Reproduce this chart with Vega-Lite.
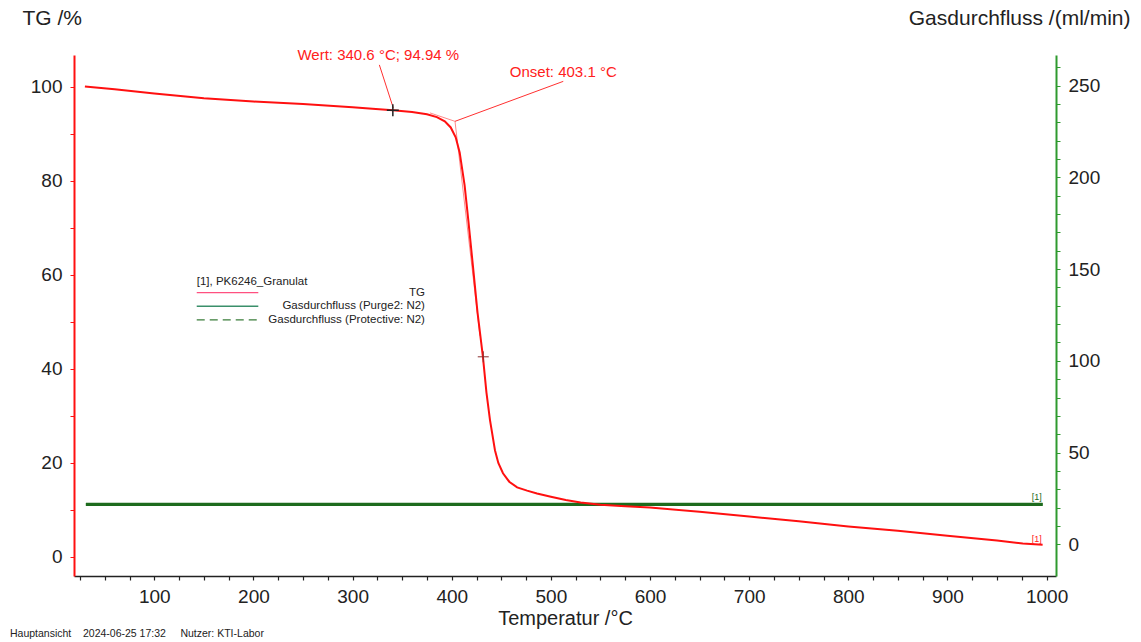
{
  "$schema": "https://vega.github.io/schema/vega-lite/v6.json",
  "width": 982,
  "height": 521,
  "autosize": {"type": "none"},
  "padding": {"left": 74, "top": 55, "right": 85, "bottom": 66},
  "background": "white",
  "config": {
    "view": {"stroke": null},
    "font": "Liberation Sans",
    "axis": {"grid": false, "labelOverlap": false, "labelFlush": false, "tickCount": 200, "format": "d", "labelFont": "Liberation Sans", "titleFont": "Liberation Sans", "titleFontWeight": "normal", "labelColor": "#222", "titleColor": "#222"}
  },
  "title": {
    "text": "Hauptansicht\u00a0\u00a0\u00a0\u00a02024-06-25 17:32\u00a0\u00a0\u00a0\u00a0\u00a0Nutzer: KTI-Labor",
    "orient": "bottom", "anchor": "start", "fontSize": 10.5, "fontWeight": "normal",
    "color": "#222", "dx": -12, "offset": 1, "font": "Liberation Sans"
  },
  "layer": [
    {
      "data": {"values": [
        {"T": 31, "flow": 21.8, "series": "Gasdurchfluss (Purge2: N2)"},
        {"T": 200, "flow": 21.8, "series": "Gasdurchfluss (Purge2: N2)"},
        {"T": 400, "flow": 21.8, "series": "Gasdurchfluss (Purge2: N2)"},
        {"T": 600, "flow": 21.8, "series": "Gasdurchfluss (Purge2: N2)"},
        {"T": 800, "flow": 21.8, "series": "Gasdurchfluss (Purge2: N2)"},
        {"T": 996, "flow": 21.8, "series": "Gasdurchfluss (Purge2: N2)"},
        {"T": 31, "flow": 21.7, "series": "Gasdurchfluss (Protective: N2)"},
        {"T": 300, "flow": 21.7, "series": "Gasdurchfluss (Protective: N2)"},
        {"T": 700, "flow": 21.7, "series": "Gasdurchfluss (Protective: N2)"},
        {"T": 996, "flow": 21.7, "series": "Gasdurchfluss (Protective: N2)"}
      ]},
      "layer": [
        {
          "mark": {"type": "line", "color": "#1d6b1d", "strokeWidth": 3},
          "encoding": {
            "x": {"field": "T", "type": "quantitative", "scale": {"domain": [19, 1009.5], "nice": false, "zero": false},
              "axis": {"values": [25,50,75,100,125,150,175,200,225,250,275,300,325,350,375,400,425,450,475,500,525,550,575,600,625,650,675,700,725,750,775,800,825,850,875,900,925,950,975,1000],
                "tickCount": 200, "format": "d",
                "labelExpr": "datum.value % 100 == 0 ? datum.label : ''", "labelOverlap": false,
                "domainColor": "#222", "domainWidth": 1.5, "tickColor": "#222", "tickSize": 4, "tickWidth": 1.2,
                "labelFontSize": 19, "labelPadding": 7, "title": "Temperatur /°C", "titleFontSize": 20, "titlePadding": 2}},
            "y": {"field": "flow", "type": "quantitative", "scale": {"domain": [-17.3, 266.7], "nice": false, "zero": false},
              "axis": {"orient": "right", "values": [0,10,20,30,40,50,60,70,80,90,100,110,120,130,140,150,160,170,180,190,200,210,220,230,240,250,260],
                "tickCount": 200, "format": "d",
                "labelExpr": "datum.value % 50 == 0 ? datum.label : ''", "labelOverlap": false,
                "domainColor": "#2f9a2f", "domainWidth": 2, "tickColor": "#2f9a2f", "tickSize": 4,
                "labelFontSize": 19, "labelPadding": 8, "labelBaseline": "middle",
                "title": "Gasdurchfluss /(ml/min)", "titleFontSize": 21, "titleAngle": 0, "titleAlign": "right",
                "titleBaseline": "middle", "titleX": 74, "titleY": -37}},
            "detail": {"field": "series"}
          }
        },
        {
          "data": {"values": [{"T": 990, "flow": 25.8, "label": "[1]"}]},
          "mark": {"type": "text", "color": "#1d6b1d", "fontSize": 9, "align": "center", "baseline": "middle"},
          "encoding": {"x": {"field": "T", "type": "quantitative"}, "y": {"field": "flow", "type": "quantitative"}, "text": {"field": "label"}}
        }
      ]
    },
    {
      "data": {"values": [
        {"T": 30, "TG": 100.0}, {"T": 60, "TG": 99.4}, {"T": 100, "TG": 98.5}, {"T": 150, "TG": 97.5},
        {"T": 200, "TG": 96.8}, {"T": 250, "TG": 96.3}, {"T": 300, "TG": 95.6}, {"T": 320, "TG": 95.3},
        {"T": 340.6, "TG": 94.94}, {"T": 360, "TG": 94.6}, {"T": 375, "TG": 94.1}, {"T": 385, "TG": 93.5},
        {"T": 393, "TG": 92.6}, {"T": 399, "TG": 91.3}, {"T": 404, "TG": 89.2}, {"T": 408, "TG": 86.0},
        {"T": 413, "TG": 79.0}, {"T": 417, "TG": 71.0}, {"T": 421.5, "TG": 61.6}, {"T": 426, "TG": 52.0},
        {"T": 431.5, "TG": 42.5}, {"T": 435, "TG": 35.0}, {"T": 438.6, "TG": 29.1}, {"T": 443.6, "TG": 22.7},
        {"T": 447, "TG": 20.0}, {"T": 451.7, "TG": 17.8}, {"T": 458, "TG": 16.0}, {"T": 466, "TG": 14.8},
        {"T": 476, "TG": 14.1}, {"T": 486, "TG": 13.5}, {"T": 500, "TG": 12.8}, {"T": 515, "TG": 12.1},
        {"T": 530, "TG": 11.6}, {"T": 550, "TG": 11.1}, {"T": 575, "TG": 10.8}, {"T": 600, "TG": 10.5},
        {"T": 650, "TG": 9.6}, {"T": 700, "TG": 8.6}, {"T": 750, "TG": 7.6}, {"T": 800, "TG": 6.5},
        {"T": 850, "TG": 5.6}, {"T": 900, "TG": 4.5}, {"T": 950, "TG": 3.5}, {"T": 976, "TG": 2.85},
        {"T": 996, "TG": 2.6}
      ]},
      "layer": [
        {
          "data": {"values": [
            {"T": 378, "TG": 94.4, "T2": 403.3, "TG2": 92.6},
            {"T": 403.3, "TG": 92.6, "T2": 428.5, "TG2": 47.0}
          ]},
          "mark": {"type": "rule", "color": "#ff8a8a", "strokeWidth": 1},
          "encoding": {"x": {"field": "T", "type": "quantitative"}, "y": {"field": "TG", "type": "quantitative"},
            "x2": {"field": "T2"}, "y2": {"field": "TG2"}}
        },
        {
          "mark": {"type": "line", "color": "#ff1010", "strokeWidth": 2},
          "encoding": {
            "x": {"field": "T", "type": "quantitative"},
            "y": {"field": "TG", "type": "quantitative", "scale": {"domain": [-4.04, 106.7], "nice": false, "zero": false},
              "axis": {"orient": "left", "values": [0,10,20,30,40,50,60,70,80,90,100],
                "tickCount": 200, "format": "d",
                "labelExpr": "datum.value % 20 == 0 ? datum.label : ''", "labelOverlap": false,
                "domainColor": "#ff1010", "domainWidth": 2, "tickColor": "#ff1010", "tickSize": 4,
                "labelFontSize": 19, "labelPadding": 8, "labelBaseline": "middle",
                "title": "TG /%", "titleFontSize": 21, "titleAngle": 0, "titleAlign": "left",
                "titleBaseline": "middle", "titleX": -52, "titleY": -37}}
          }
        },
        {
          "data": {"values": [
            {"T": 341.1, "TG": 95.4, "T2": 327, "TG2": 104.6},
            {"T": 403.3, "TG": 92.6, "T2": 512.5, "TG2": 101.1}
          ]},
          "mark": {"type": "rule", "color": "#ff3030", "strokeWidth": 1},
          "encoding": {"x": {"field": "T", "type": "quantitative"}, "y": {"field": "TG", "type": "quantitative"},
            "x2": {"field": "T2"}, "y2": {"field": "TG2"}}
        },
        {
          "data": {"values": [{"T": 340.6, "TG": 94.94}]},
          "mark": {"type": "point", "shape": "M-1,0L1,0M0,-1L0,1", "filled": false, "stroke": "#222", "strokeWidth": 1.5, "size": 144, "opacity": 1},
          "encoding": {"x": {"field": "T", "type": "quantitative"}, "y": {"field": "TG", "type": "quantitative"}}
        },
        {
          "data": {"values": [{"T": 431.8, "TG": 42.55}]},
          "mark": {"type": "point", "shape": "M-1,0L1,0M0,-1L0,1", "filled": false, "stroke": "#8a3030", "strokeWidth": 1, "size": 121, "opacity": 1},
          "encoding": {"x": {"field": "T", "type": "quantitative"}, "y": {"field": "TG", "type": "quantitative"}}
        },
        {
          "data": {"values": [
            {"T": 325.9, "TG": 106.7, "label": "Wert: 340.6 °C; 94.94 %"},
            {"T": 512.5, "TG": 103.1, "label": "Onset: 403.1 °C"}
          ]},
          "mark": {"type": "text", "color": "#ff2020", "fontSize": 15, "align": "center", "baseline": "middle"},
          "encoding": {"x": {"field": "T", "type": "quantitative"}, "y": {"field": "TG", "type": "quantitative"}, "text": {"field": "label"}}
        },
        {
          "data": {"values": [{"T": 990, "TG": 3.9, "label": "[1]"}]},
          "mark": {"type": "text", "color": "#ff2020", "fontSize": 9, "align": "center", "baseline": "middle"},
          "encoding": {"x": {"field": "T", "type": "quantitative"}, "y": {"field": "TG", "type": "quantitative"}, "text": {"field": "label"}}
        },
        {
          "data": {"values": [
            {"T": 142.8, "T2": 204.9, "TG": 56.2, "series": "TG"},
            {"T": 142.8, "T2": 204.9, "TG": 53.3, "series": "Gasdurchfluss (Purge2: N2)"}
          ]},
          "mark": {"type": "rule", "strokeWidth": 1.3},
          "encoding": {"x": {"field": "T", "type": "quantitative"}, "x2": {"field": "T2"}, "y": {"field": "TG", "type": "quantitative"},
            "color": {"field": "series", "type": "nominal", "scale": {"domain": ["TG", "Gasdurchfluss (Purge2: N2)"], "range": ["#ff5080", "#3a8f6a"]}, "legend": null}}
        },
        {
          "data": {"values": [{"T": 142.8, "T2": 204.9, "TG": 50.4}]},
          "mark": {"type": "rule", "strokeWidth": 1.3, "color": "#3a7d3a", "strokeDash": [8, 5]},
          "encoding": {"x": {"field": "T", "type": "quantitative"}, "x2": {"field": "T2"}, "y": {"field": "TG", "type": "quantitative"}}
        },
        {
          "data": {"values": [{"T": 142.8, "TG": 58.4, "label": "[1], PK6246_Granulat"}]},
          "mark": {"type": "text", "color": "#222", "fontSize": 11.5, "align": "left", "baseline": "middle"},
          "encoding": {"x": {"field": "T", "type": "quantitative"}, "y": {"field": "TG", "type": "quantitative"}, "text": {"field": "label"}}
        },
        {
          "data": {"values": [
            {"T": 373, "TG": 56.2, "label": "TG"},
            {"T": 373, "TG": 53.3, "label": "Gasdurchfluss (Purge2: N2)"},
            {"T": 373, "TG": 50.4, "label": "Gasdurchfluss (Protective: N2)"}
          ]},
          "mark": {"type": "text", "color": "#222", "fontSize": 11.5, "align": "right", "baseline": "middle"},
          "encoding": {"x": {"field": "T", "type": "quantitative"}, "y": {"field": "TG", "type": "quantitative"}, "text": {"field": "label"}}
        }
      ]
    }
  ],
  "resolve": {"scale": {"y": "independent", "color": "independent"}}
}
